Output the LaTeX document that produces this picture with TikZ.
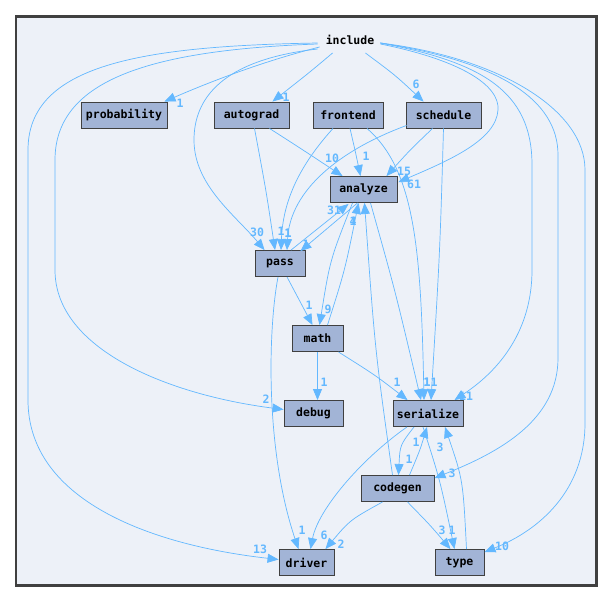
\documentclass[tikz,border=0pt]{standalone}
\usepackage{fontspec}
\usetikzlibrary{arrows.meta,calc}
\newfontfamily\dfont{DejaVu Sans Mono}
\definecolor{edgecol}{HTML}{63B8FF}
\definecolor{boxfill}{HTML}{A2B4D6}
\definecolor{boxline}{HTML}{404040}
\definecolor{bgfill}{HTML}{EDF1F8}
\tikzset{
  dirnode/.style={draw=boxline, fill=boxfill, line width=0.9pt, minimum height=26pt, inner sep=0pt, font={\dfont\bfseries\fontsize{11.5}{12}\selectfont}},
  dep/.style={draw=edgecol, line width=0.7pt, -{Triangle[length=11pt,width=9pt]}},
  lbl/.style={text=edgecol, inner sep=0pt, font={\dfont\bfseries\fontsize{11.5}{12}\selectfont}},
}
\begin{document}
\begin{tikzpicture}[x=1pt,y=-1pt]
\useasboundingbox (0,0) rectangle (613,603);
\draw[line width=2.6pt, draw=boxline, fill=bgfill] (16,16.5) rectangle (596.5,585.5);

\node[inner sep=0pt, font={\dfont\bfseries\fontsize{11.5}{12}\selectfont}] (include) at (350,40) {include};
\node[dirnode, minimum width=86pt] (probability) at (124,115) {probability};
\node[dirnode, minimum width=75pt] (autograd) at (251.5,115) {autograd};
\node[dirnode, minimum width=70pt] (frontend) at (348,115) {frontend};
\node[dirnode, minimum width=75pt] (schedule) at (443.5,115) {schedule};
\node[dirnode, minimum width=67pt] (analyze) at (363.5,189.5) {analyze};
\node[dirnode, minimum width=50pt] (pass) at (280,263.5) {pass};
\node[dirnode, minimum width=51pt] (math) at (317.5,338.5) {math};
\node[dirnode, minimum width=59pt] (debug) at (313.5,413.5) {debug};
\node[dirnode, minimum width=70pt] (serialize) at (428,413.5) {serialize};
\node[dirnode, minimum width=73pt] (codegen) at (397.5,488.5) {codegen};
\node[dirnode, minimum width=55pt] (driver) at (306.5,562.5) {driver};
\node[dirnode, minimum width=49pt] (type) at (459.5,562.5) {type};

% from include
\draw[dep] ($(include.west)+(-6,7)$) .. controls (260,62) and (205,84) .. ($(probability.north east)+(-3,0)$);
\node[lbl] (l1) at (180,103) {1};
\draw[dep] ($(include.west)+(7,13)$) .. controls (310,72) .. ($(autograd.north east)+(-17,0)$);
\node[lbl] (l2) at (286,97) {1};
\draw[dep] ($(include.east)+(-9,13)$) .. controls (395,75) .. ($(schedule.north west)+(18,0)$);
\node[lbl] (l3) at (416,84) {6};
\draw[dep] ($(include.west)+(-8,9)$) .. controls (220,60) and (194,100) .. (194,140) .. controls (194,185) and (235,215) .. ($(pass.north west)+(10,0)$);
\node[lbl] (l4) at (257,232) {30};
\draw[dep] ($(include.west)+(-8,4)$) .. controls (150,50) and (55,80) .. (55,160) -- (55,270) .. controls (55,350) and (170,395) .. ($(debug.west)+(0,-4)$);
\node[lbl] (l5) at (266,399) {2};
\draw[dep] ($(include.west)+(-8,3)$) .. controls (140,46) and (28,65) .. (28,150) -- (28,400) .. controls (28,500) and (150,545) .. ($(driver.west)+(0,-3)$);
\node[lbl] (l6) at (260,549) {13};
\draw[dep] ($(include.east)+(6,4)$) .. controls (460,60) and (500,85) .. (498,110) .. controls (496,140) and (450,160) .. ($(analyze.north east)+(1,6)$);
\node[lbl] (l7) at (414,184) {61};
\draw[dep] ($(include.east)+(6,3)$) .. controls (480,62) and (532,90) .. (532,165) -- (532,270) .. controls (532,330) and (500,370) .. ($(serialize.north east)+(-9,0)$);
\node[lbl] (l8) at (466,396) {11};
\draw[dep] ($(include.east)+(6,3)$) .. controls (500,62) and (558,100) .. (558,155) -- (558,358) .. controls (558,420) and (500,452) .. ($(codegen.north east)+(0,3)$);
\node[lbl] (l9) at (452,473) {3};
\draw[dep] ($(include.east)+(6,3)$) .. controls (500,58) and (585,110) .. (585,170) -- (585,423) .. controls (585,490) and (540,530) .. ($(type.north east)+(0,3)$);
\node[lbl] (l10) at (502,546) {10};

% autograd, frontend, schedule
\draw[dep] ($(autograd.south)+(18,0)$) .. controls (300,148) .. ($(analyze.north west)+(13,0)$);
\node[lbl] (l11) at (332,158) {10};
\draw[dep] ($(autograd.south)+(3,0)$) .. controls (266,190) .. ($(pass.north)+(-5,0)$);
\node[lbl] (l12) at (281,231) {1};
\draw[dep] ($(frontend.south)+(2,0)$) .. controls (355,150) .. ($(analyze.north)+(-3,0)$);
\node[lbl] (l13) at (366,156) {1};
\draw[dep] ($(frontend.south)+(-15,0)$) .. controls (300,165) and (283,200) .. ($(pass.north)+(1,0)$);
\node[lbl] (l14) at (288,233) {1};
\draw[dep] ($(frontend.south)+(19,0)$) .. controls (415,170) and (421,250) .. ($(serialize.north)+(-4,0)$);
\node[lbl] (l15) at (427,382) {1};
\draw[dep] ($(schedule.south)+(-11,0)$) .. controls (410,150) .. ($(analyze.north east)+(-11,0)$);
\node[lbl] (l16) at (404,171) {15};
\draw[dep] ($(schedule.south west)+(1,-3)$) .. controls (340,150) and (290,190) .. ($(pass.north)+(7,0)$);
\node[lbl] (l17) at (288,233) {1};
\draw[dep] ($(schedule.south)+(0,0)$) .. controls (440,250) .. ($(serialize.north)+(3,0)$);
\node[lbl] (l18) at (434,382) {1};

% analyze, pass, math
\draw[dep] ($(pass.north)+(11,0)$) -- ($(analyze.south west)+(19,1)$);
\node[lbl] (l19) at (334,210) {31};
\draw[dep] ($(analyze.south)+(-6,0)$) -- ($(pass.north east)+(-5,1)$);
\node[lbl] (l20) at (306,244) {1};
\draw[dep] ($(analyze.south)+(-11,0)$) .. controls (330,260) .. ($(math.north)+(2,0)$);
\node[lbl] (l21) at (328,309) {9};
\draw[dep] ($(math.north)+(10,0)$) .. controls (345,270) .. ($(analyze.south)+(-5,0)$);
\node[lbl] (l22) at (353,221) {4};
\draw[dep] ($(codegen.north)+(-5,0)$) .. controls (375,350) .. ($(analyze.south)+(1,0)$);
\node[lbl] (l23) at (353,221) {1};
\draw[dep] ($(analyze.south)+(7,0)$) .. controls (395,290) .. ($(serialize.north)+(-7,0)$);
\node[lbl] (l24) at (427,382) {1};
\draw[dep] ($(pass.south)+(7,0)$) -- ($(math.north)+(-5,0)$);
\node[lbl] (l25) at (309,305) {1};
\draw[dep] ($(pass.south)+(-2,0)$) .. controls (268,330) and (265,450) .. ($(driver.north)+(-8,0)$);
\node[lbl] (l26) at (302,530) {1};
\draw[dep] (math.south) -- (debug.north-|math.south);
\node[lbl] (l27) at (324,382) {1};
\draw[dep] ($(math.south east)+(-5,0)$) .. controls (375,375) .. ($(serialize.north west)+(15,0)$);
\node[lbl] (l28) at (397,382) {1};

% serialize, codegen, driver, type
\draw[dep] ($(serialize.south)+(-14,0)$) .. controls (400,445) .. ($(codegen.north)+(1,0)$);
\node[lbl] (l29) at (409,459) {1};
\draw[dep] ($(codegen.north)+(12,0)$) .. controls (420,450) .. ($(serialize.south)+(-1,0)$);
\node[lbl] (l30) at (416,442) {1};
\draw[dep] ($(serialize.south)+(-21,0)$) .. controls (360,460) and (318,510) .. ($(driver.north)+(4,0)$);
\node[lbl] (l31) at (324,535) {6};
\draw[dep] ($(codegen.south)+(-15,0)$) .. controls (350,520) .. ($(driver.north east)+(-9,0)$);
\node[lbl] (l32) at (341,544) {2};
\draw[dep] ($(codegen.south)+(10,0)$) .. controls (430,525) .. ($(type.north)+(-9,0)$);
\node[lbl] (l33) at (442,530) {3};
\draw[dep] ($(serialize.south)+(-5,0)$) .. controls (440,480) .. ($(type.north)+(-5,0)$);
\node[lbl] (l34) at (452,530) {1};
\draw[dep] ($(type.north)+(7,0)$) .. controls (463,480) .. ($(serialize.south)+(17,0)$);
\node[lbl] (l35) at (440,447) {3};
\end{tikzpicture}
\end{document}
